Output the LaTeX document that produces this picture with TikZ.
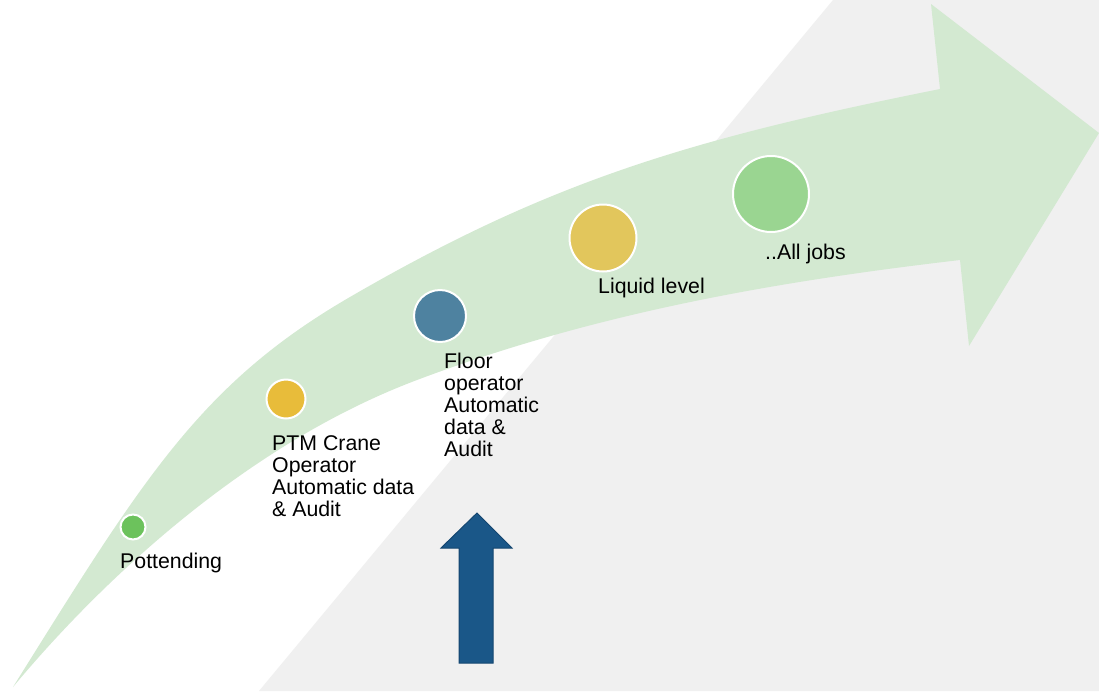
\documentclass[tikz,border=0pt]{standalone}
\usepackage{fontspec}
\setmainfont{Liberation Sans}
\definecolor{bggray}{RGB}{240,240,240}
\definecolor{arrowgreen}{RGB}{211,233,209}
\definecolor{dotA}{RGB}{108,194,92}
\definecolor{dotB}{RGB}{232,188,58}
\definecolor{dotC}{RGB}{78,130,160}
\definecolor{dotD}{RGB}{226,198,92}
\definecolor{dotE}{RGB}{154,213,145}
\definecolor{bluearrow}{RGB}{26,87,136}
\definecolor{bluearrowedge}{RGB}{20,70,112}
\begin{document}
\begin{tikzpicture}[x=1pt,y=-1pt,
  dot/.style={circle,draw=white,line width=2pt,inner sep=0pt,minimum size=#1},
  lbl/.style={font=\fontsize{21.3}{22}\selectfont,inner sep=0pt,align=left,anchor=base west,text=black}]
\useasboundingbox (0,0) rectangle (1099,691);
\fill[white] (0,0) rectangle (1099,691);
% gray background band
\fill[bggray] (833,0) -- (1099,0) -- (1099,691) -- (259,691) -- cycle;
% big curved green arrow
\fill[arrowgreen] (13,687)
  .. controls (143,479) and (200,384) .. (350,297)
  .. controls (550,181) and (690,139) .. (940,89)
  -- (931,4) -- (1099,133) -- (969,346) -- (960,260)
  .. controls (780,281) and (597,312) .. (417,380)
  .. controls (247,444) and (103,579) .. (13,687) -- cycle;
% milestones
\node[dot=25pt,fill=dotA] (d1) at (133,527) {};
\node[dot=39pt,fill=dotB] (d2) at (286,399) {};
\node[dot=52pt,fill=dotC] (d3) at (440,316) {};
\node[dot=67pt,fill=dotD] (d4) at (603,238) {};
\node[dot=76pt,fill=dotE] (d5) at (771,194) {};
% labels
\node[lbl] (t1) at (120,568) {Pottending};
\node[lbl] (t2) at (272,516) {PTM Crane\\Operator\\Automatic data\\\& Audit};
\node[lbl] (t3) at (444,456) {Floor\\operator\\Automatic\\data \&\\Audit};
\node[lbl] (t4) at (598,293) {Liquid level};
\node[lbl] (t5) at (765,259) {..All jobs};
% blue up arrow
\filldraw[fill=bluearrow,draw=bluearrowedge,line width=1pt,line join=miter]
  (477,513) -- (512,548) -- (493,548) -- (493,663) -- (459,663) -- (459,548) -- (441,548) -- cycle;
\end{tikzpicture}
\end{document}
